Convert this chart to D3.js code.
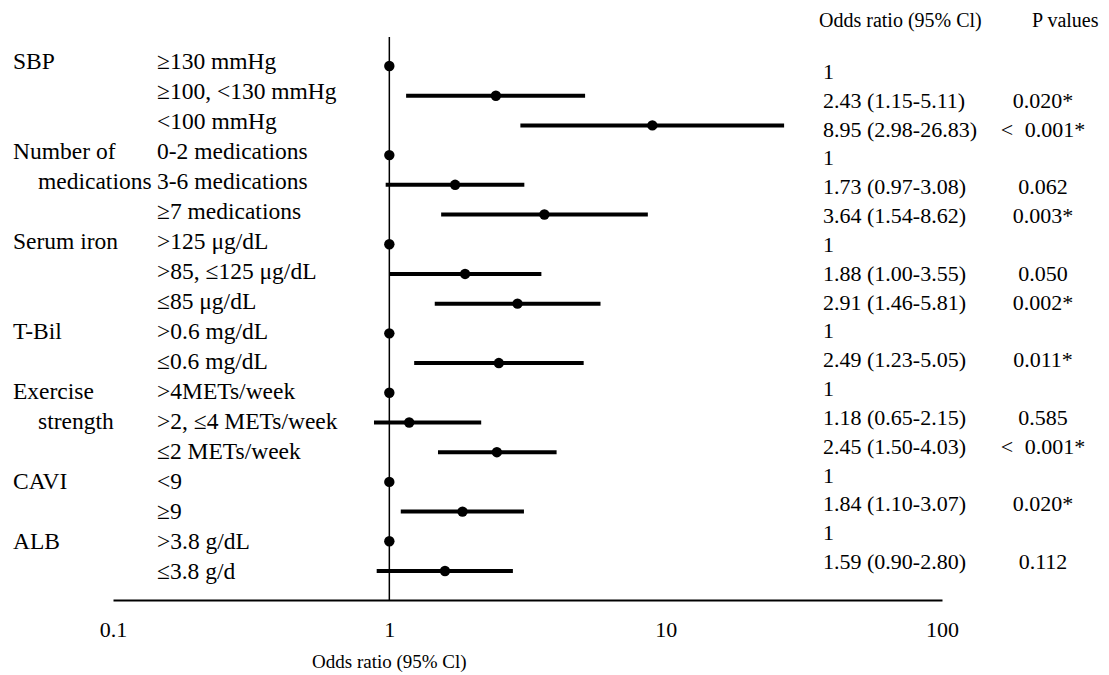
<!DOCTYPE html>
<html lang="en">
<head>
<meta charset="UTF-8">
<title>Forest plot</title>
<script src="https://d3js.org/d3.v7.min.js"></script>
<style>
    body { margin: 0; background: #fff; }
    svg text { font-family: "Liberation Serif", "Times New Roman", serif; fill: #000; }
</style>
</head>
<body>
<div id="chart"></div>
<script>

// group names (one entry per line of the label) and how many rows each covers
const groupLines = [["SBP"], ["Number of", "medications"], ["Serum iron"], ["T-Bil"], ["Exercise", "strength"], ["CAVI"], ["ALB"]];
const groupSizes = [3, 3, 3, 2, 3, 2, 2];

const categories = [
    "\u2265130 mmHg", "\u2265100, <130 mmHg", "<100 mmHg",
    "0-2 medications", "3-6 medications", "\u22657 medications",
    ">125 \u03bcg/dL", ">85, \u2264125 \u03bcg/dL", "\u226485 \u03bcg/dL",
    ">0.6 mg/dL", "\u22640.6 mg/dL",
    ">4METs/week", ">2, \u22644 METs/week", "\u22642 METs/week",
    "<9", "\u22659",
    ">3.8 g/dL", "\u22643.8 g/d"
];

// plotted values (as drawn in the figure), null = reference row
const oddsRatio = [1, 2.43, 8.95, 1, 1.73, 3.64, 1, 1.88, 2.91, 1, 2.49, 1, 1.18, 2.45, 1, 1.84, 1, 1.59];
const ciLow  = [null, 1.15, 2.98, null, 0.97, 1.54, null, 1.00, 1.46, null, 1.23, null, 0.88, 1.50, null, 1.10, null, 0.90];
const ciHigh = [null, 5.11, 26.83, null, 3.08, 8.62, null, 3.55, 5.81, null, 5.05, null, 2.15, 4.03, null, 3.07, null, 2.80];

// table texts
const orLabels = [
    "1", "2.43 (1.15-5.11)", "8.95 (2.98-26.83)",
    "1", "1.73 (0.97-3.08)", "3.64 (1.54-8.62)",
    "1", "1.88 (1.00-3.55)", "2.91 (1.46-5.81)",
    "1", "2.49 (1.23-5.05)",
    "1", "1.18 (0.65-2.15)", "2.45 (1.50-4.03)",
    "1", "1.84 (1.10-3.07)",
    "1", "1.59 (0.90-2.80)"
];
const pValues = ["", "0.020*", "< 0.001*", "", "0.062", "0.003*", "", "0.050", "0.002*", "", "0.011*", "", "0.585", "< 0.001*", "", "0.020*", "", "0.112"];

const xTicks = [0.1, 1, 10, 100];
const headers = ["Odds ratio (95% Cl)", "P values"];
const xTitle = "Odds ratio (95% Cl)";

const width = 1109;
const height = 675;
const n = categories.length;

const svg = d3.select("#chart")
    .append("svg")
    .attr("width", width)
    .attr("height", height);

const x = d3.scaleLog().domain([0.1, 100]).range([113, 942]);
// rows: marks, left labels and table texts sit on slightly different grids
const yMark = d3.scaleLinear().domain([0, n - 1]).range([66, 571]);
const yLabel = d3.scaleLinear().domain([0, n - 1]).range([69, 579]);
const yTable = d3.scaleLinear().domain([0, n - 1]).range([79, 569]);

const fsLabel = 23.5;
const fsTable = 22;

// headers
svg.append("text").attr("x", 819).attr("y", 27).attr("font-size", 20).text(headers[0]);
svg.append("text").attr("x", 1032).attr("y", 27).attr("font-size", 20).text(headers[1]);

// group labels
let start = 0;
groupLines.forEach((lines, gi) => {
    lines.forEach((ln, li) => {
        svg.append("text")
            .attr("x", li === 0 ? 13 : 38)
            .attr("y", yLabel(start + li))
            .attr("font-size", fsLabel)
            .text(ln);
    });
    start += groupSizes[gi];
});

// category labels
svg.append("g").selectAll("text")
    .data(categories)
    .join("text")
    .attr("x", 157)
    .attr("y", (d, i) => yLabel(i))
    .attr("font-size", fsLabel)
    .text(d => d);

// reference line at OR = 1
svg.append("line")
    .attr("x1", x(1)).attr("x2", x(1))
    .attr("y1", 37).attr("y2", 600)
    .attr("stroke", "#000")
    .attr("stroke-width", 1.5);

// axis
const axis = svg.append("g")
    .attr("transform", "translate(0,600)")
    .call(d3.axisBottom(x).tickValues(xTicks).tickFormat(d3.format("~g")).tickSize(0).tickSizeOuter(0));
axis.select(".domain").attr("stroke", "#000").attr("stroke-width", 2.2);
axis.selectAll(".tick text")
    .attr("font-family", null)
    .attr("font-size", fsTable)
    .attr("dy", null)
    .attr("y", 37)
    .attr("fill", "#000");

svg.append("text")
    .attr("x", x(1))
    .attr("y", 668)
    .attr("font-size", 19)
    .attr("text-anchor", "middle")
    .text(xTitle);

// CI bars
const rows = d3.range(n);
svg.append("g").selectAll("line")
    .data(rows.filter(i => ciLow[i] != null))
    .join("line")
    .attr("x1", i => x(ciLow[i]))
    .attr("x2", i => x(ciHigh[i]))
    .attr("y1", i => yMark(i))
    .attr("y2", i => yMark(i))
    .attr("stroke", "#000")
    .attr("stroke-width", 4);

// point estimates
svg.append("g").selectAll("circle")
    .data(rows)
    .join("circle")
    .attr("cx", i => x(oddsRatio[i]))
    .attr("cy", i => yMark(i))
    .attr("r", 5.2)
    .attr("fill", "#000");

// odds ratio column
svg.append("g").selectAll("text")
    .data(orLabels)
    .join("text")
    .attr("x", 823)
    .attr("y", (d, i) => yTable(i))
    .attr("font-size", fsTable)
    .text(d => d);

// p values, centred in their column
svg.append("g").selectAll("text")
    .data(pValues)
    .join("text")
    .attr("x", 1043)
    .attr("y", (d, i) => yTable(i))
    .attr("font-size", fsTable)
    .attr("word-spacing", 6)
    .attr("text-anchor", "middle")
    .text(d => d);

</script>
</body>
</html>
